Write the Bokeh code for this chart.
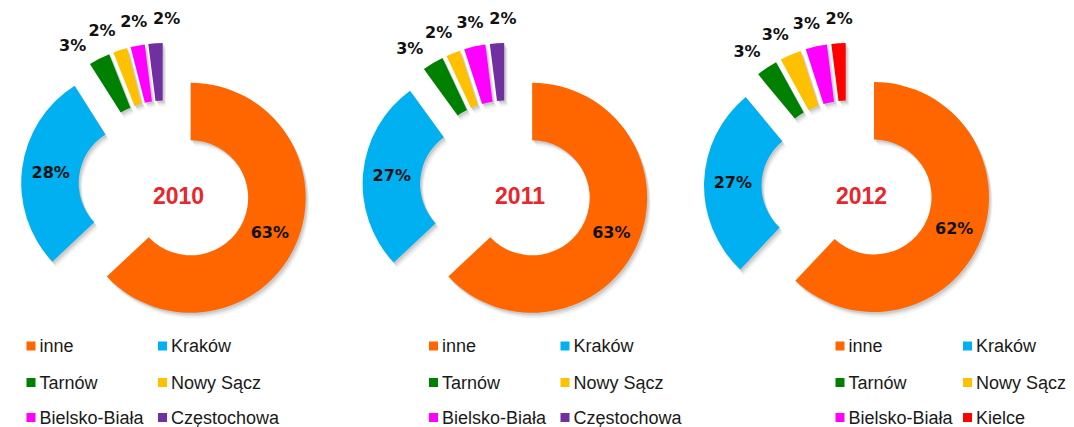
import math
from bokeh.plotting import figure
from bokeh.models import Range1d
from bokeh.core.properties import value
from bokeh.embed import file_html
from bokeh.resources import INLINE

# ---------------- data ----------------
years = ["2010", "2011", "2012"]
categories_2010 = ["inne", "Kraków", "Tarnów", "Nowy Sącz", "Bielsko-Biała", "Częstochowa"]
categories_2011 = ["inne", "Kraków", "Tarnów", "Nowy Sącz", "Bielsko-Biała", "Częstochowa"]
categories_2012 = ["inne", "Kraków", "Tarnów", "Nowy Sącz", "Bielsko-Biała", "Kielce"]
values_2010 = [63, 28, 3, 2, 2, 2]
values_2011 = [63, 27, 3, 2, 3, 2]
values_2012 = [62, 27, 3, 3, 3, 2]

# ---------------- style ----------------
COLORS = {
    "inne": "#FF6600",
    "Kraków": "#00B0F0",
    "Tarnów": "#008000",
    "Nowy Sącz": "#FFC000",
    "Bielsko-Biała": "#FF00FF",
    "Częstochowa": "#7030A0",
    "Kielce": "#FF0000",
}
W, H = 1074, 427
CENTERS_X = [164, 505.5, 847]
CENTER_Y = -186
R_OUT, R_IN, EXPLODE = 115, 57.5, 28.5
LBL_IN_R = EXPLODE + (R_OUT + R_IN) / 2
LBL_OUT_R = 168
LBL_SPREAD = 11.3
YEAR_DX, YEAR_DY = 14, -8.5
LEG_X = [30.5, 433, 839.5]
LEG_COL2 = [131.5, 131.5, 127.5]
LEG_ROWS = [-345.5, -382, -417]

p = figure(width=W, height=H, output_backend="svg", toolbar_location=None,
           x_range=Range1d(0, W), y_range=Range1d(-H, 0),
           min_border=0, outline_line_color=None)
p.axis.visible = False
p.grid.visible = False
p.background_fill_color = "white"
p.border_fill_color = "white"

charts = [(categories_2010, values_2010), (categories_2011, values_2011), (categories_2012, values_2012)]

for k, (cats, vals) in enumerate(charts):
    cx, cy = CENTERS_X[k], CENTER_Y
    total = float(sum(vals))
    cum = 0.0
    wx, wy, ws, we, wc = [], [], [], [], []
    lx, ly, lt = [], [], []
    for i, (c, v) in enumerate(zip(cats, vals)):
        a0 = 90 - cum / total * 360
        a1 = 90 - (cum + v) / total * 360
        cum += v
        mid = math.radians((a0 + a1) / 2)
        wx.append(cx + EXPLODE * math.cos(mid))
        wy.append(cy + EXPLODE * math.sin(mid))
        ws.append(math.radians(a1))
        we.append(math.radians(a0))
        wc.append(COLORS[c])
        if i < 2:
            lx.append(cx + LBL_IN_R * math.cos(mid))
            ly.append(cy + LBL_IN_R * math.sin(mid))
            lt.append(f"{v}%")
    # small slices labels spread around the group's centre
    small = vals[2:]
    n = len(small)
    gc = 90 + sum(small) / total * 360 / 2
    for j, v in enumerate(small):
        a = math.radians(gc + ((n - 1) / 2 - j) * LBL_SPREAD)
        lx.append(cx + LBL_OUT_R * math.cos(a))
        ly.append(cy + LBL_OUT_R * math.sin(a))
        lt.append(f"{v}%")

    # soft shadow
    for (dx, dy, al) in [(3.5, -5.5, 0.10), (2.5, -3.5, 0.16), (1.5, -2.0, 0.22)]:
        p.annular_wedge(x=[x + dx for x in wx], y=[y + dy for y in wy],
                        inner_radius=R_IN, outer_radius=R_OUT,
                        start_angle=ws, end_angle=we, direction="anticlock",
                        fill_color="#808080", fill_alpha=al, line_color=None)
    p.annular_wedge(x=wx, y=wy, inner_radius=R_IN, outer_radius=R_OUT,
                    start_angle=ws, end_angle=we, direction="anticlock",
                    fill_color=wc, line_color=None)
    p.text(x=lx, y=ly, text=lt, text_font=value("DejaVu Sans"), text_font_style="bold",
           text_font_size="16px", text_color="#111111",
           text_align="center", text_baseline="middle")
    p.text(x=[cx + YEAR_DX], y=[cy + YEAR_DY], text=[years[k]],
           text_font=value("Liberation Sans"), text_font_style="bold",
           text_font_size="23px", text_color="#E8262C",
           text_align="center", text_baseline="middle")

    # legend
    sx, sy, sc, tx, ty, tt = [], [], [], [], [], []
    for i, c in enumerate(cats):
        row, col = divmod(i, 2)
        x0 = LEG_X[k] + (LEG_COL2[k] if col else 0)
        sx.append(x0)
        sy.append(LEG_ROWS[row])
        sc.append(COLORS[c])
        tx.append(x0 + 8.5)
        ty.append(LEG_ROWS[row])
        tt.append(c)
    p.rect(x=sx, y=sy, width=9, height=9, fill_color=sc, line_color=None)
    p.text(x=tx, y=ty, text=tt, text_font=value("Liberation Sans"),
           text_font_size="18px", text_color="#1a1a1a",
           text_align="left", text_baseline="middle")

open("out.html", "w").write(file_html(p, INLINE))
